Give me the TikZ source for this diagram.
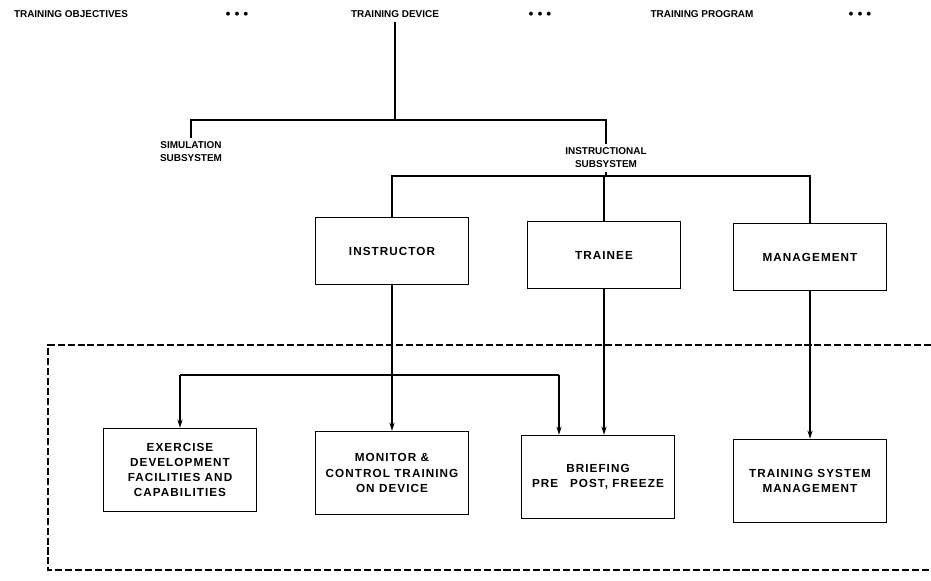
\documentclass[tikz,border=0pt]{standalone}
\usepackage{fontspec}
\setmainfont{Liberation Sans}
\usetikzlibrary{arrows.meta}
\tikzset{>={Stealth[length=7pt, width=4.5pt]}}

\begin{document}
\begin{tikzpicture}[x = 0.03cm, y = -0.03cm, line width = 0.9pt,
    lbl/.style = {font = \bfseries\fontsize{8.5}{10}\selectfont},
    sub/.style = {font = \bfseries\fontsize{8.5}{11}\selectfont, align = center},
    box/.style = {draw, line width = 1.2pt, align = center, minimum width = 4.6cm,
        font = \bfseries\fontsize{10}{13}\selectfont\addfontfeatures{LetterSpace=9}},
    role/.style = {box, minimum height = 2cm},
    task/.style = {box, minimum height = 2.5cm}]
    \useasboundingbox (0,0) rectangle (931,580);
    % top row
    \node[lbl] (obj) at (71,14) {TRAINING OBJECTIVES};
    \node[lbl] (d1)  at (237,14) {$\bullet\,\bullet\,\bullet$};
    \node[lbl] (dev) at (395,14) {TRAINING DEVICE};
    \node[lbl] (d2)  at (540,14) {$\bullet\,\bullet\,\bullet$};
    \node[lbl] (prg) at (702,14) {TRAINING PROGRAM};
    \node[lbl] (d3)  at (860,14) {$\bullet\,\bullet\,\bullet$};
    % subsystems
    \node[sub] (sim) at (191,152) {SIMULATION\\SUBSYSTEM};
    \node[sub] (ins) at (606,158) {INSTRUCTIONAL\\SUBSYSTEM};
    \coordinate (jl) at (191,120);
    \coordinate (jr) at (606,120);
    \draw (dev.south) -- (dev.south |- jl);
    \draw (sim.north) -- (jl) -- (jr) -- (ins.north);
    % roles
    \node[role] (inst) at (392,251) {INSTRUCTOR};
    \node[role] (trn)  at (604,255) {TRAINEE};
    \node[role] (mgt)  at (810,257) {MANAGEMENT};
    \coordinate (rl) at (392,176);
    \coordinate (rr) at (810,176);
    \draw (ins.south) -- (ins.south |- rl);
    \draw (inst.north) -- (rl) -- (rr) -- (mgt.north);
    \draw (trn.north) -- (trn.north |- rl);
    % boundary
    \draw[dash pattern = on 6pt off 2.5pt, line width = 1.1pt]
        (931,345) -- (48,345) -- (48,570) -- (931,570);
    % tasks
    \node[task] (exc) at (180,470) {EXERCISE\\DEVELOPMENT\\FACILITIES AND\\CAPABILITIES};
    \node[task] (mon) at (392,473) {MONITOR \&\\CONTROL TRAINING\\ON DEVICE};
    \node[task] (brf) at (598,477) {BRIEFING\\PRE\quad POST, FREEZE};
    \node[task] (tsm) at (810,481) {TRAINING SYSTEM\\MANAGEMENT};
    \coordinate (bl) at (180,375);
    \coordinate (br) at (559,375);
    \draw[->] (inst.south) -- (mon.north);
    \draw[->] (bl) -- (exc.north);
    \draw[->] (br) -- (br |- brf.north);
    \draw (bl) -- (br);
    \draw[->] (trn.south) -- (trn.south |- brf.north);
    \draw[->] (mgt.south) -- (tsm.north);
\end{tikzpicture}
\end{document}
